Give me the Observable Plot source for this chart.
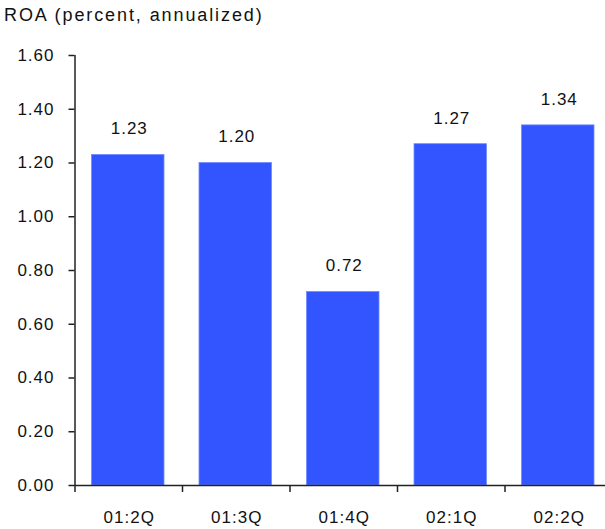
<!DOCTYPE html>
<html>
<head>
<meta charset="utf-8">
<script src="https://cdn.jsdelivr.net/npm/d3@7"></script>
<script src="https://cdn.jsdelivr.net/npm/@observablehq/plot@0.6"></script>
<style>
  html, body { margin: 0; padding: 0; background: #fff; overflow: hidden; }
  #title { height: 30px; font-family: Arial, "Liberation Sans", sans-serif; font-size: 18px; letter-spacing: 1.9px; color: #111; padding-left: 4px; line-height: 30px; box-sizing: border-box; white-space: nowrap; }
  #chart svg { display: block; overflow: visible; }
  #chart svg text { letter-spacing: 1px; }
</style>
</head>
<body>
<div id="title">ROA (percent, annualized)</div>
<div id="chart"></div>
<script>
const quarters = ["01:2Q", "01:3Q", "01:4Q", "02:1Q", "02:2Q"];
const roa = [1.23, 1.20, 0.72, 1.27, 1.34];
const yTicks = [0, 0.2, 0.4, 0.6, 0.8, 1.0, 1.2, 1.4, 1.6];

const data = quarters.map((q, i) => ({i, q, roa: roa[i]}));
const bounds = quarters.map((q, i) => i).concat([quarters.length]);
const centers = quarters.map((q, i) => i + 0.5);

const chart = Plot.plot({
  width: 605,
  height: 499,
  marginTop: 25,
  marginBottom: 44,
  marginLeft: 74.5,
  marginRight: 0,
  style: {fontFamily: "Arial, 'Liberation Sans', sans-serif", fontSize: "17px", color: "#111", background: "#fff"},
  x: {domain: [0, quarters.length], range: [74.5, 612]},
  y: {domain: [0, 1.6]},
  marks: [
    Plot.rectY(data, {x1: "i", x2: d => d.i + 1, y: "roa", fill: "#3355ff", stroke: "#6f8cff", strokeWidth: 0.8, insetLeft: 17, insetRight: 18}),
    Plot.text(data, {x: d => d.i + 0.5, y: "roa", text: d => d.roa.toFixed(2), dy: -26, dx: 0.5, fontSize: 17, fill: "#111"}),
    Plot.axisY(yTicks, {label: null, tickSize: 6, tickPadding: 14.5, tickFormat: d3.format(".2f"), stroke: "#222", strokeWidth: 1.5, fill: "#111"}),
    Plot.axisX(bounds, {label: null, tickSize: 7, tickFormat: () => "", stroke: "#222", strokeWidth: 1.5}),
    Plot.axisX(centers, {label: null, tickSize: 0, tickPadding: 25, dx: 0.5, tickFormat: v => quarters[Math.floor(v)], fill: "#111"}),
    Plot.ruleX([0], {y1: 0, y2: 1.6, stroke: "#222", strokeWidth: 1.5}),
    Plot.ruleY([0], {stroke: "#222", strokeWidth: 1.5})
  ]
});
document.getElementById("chart").appendChild(chart);
</script>
</body>
</html>
